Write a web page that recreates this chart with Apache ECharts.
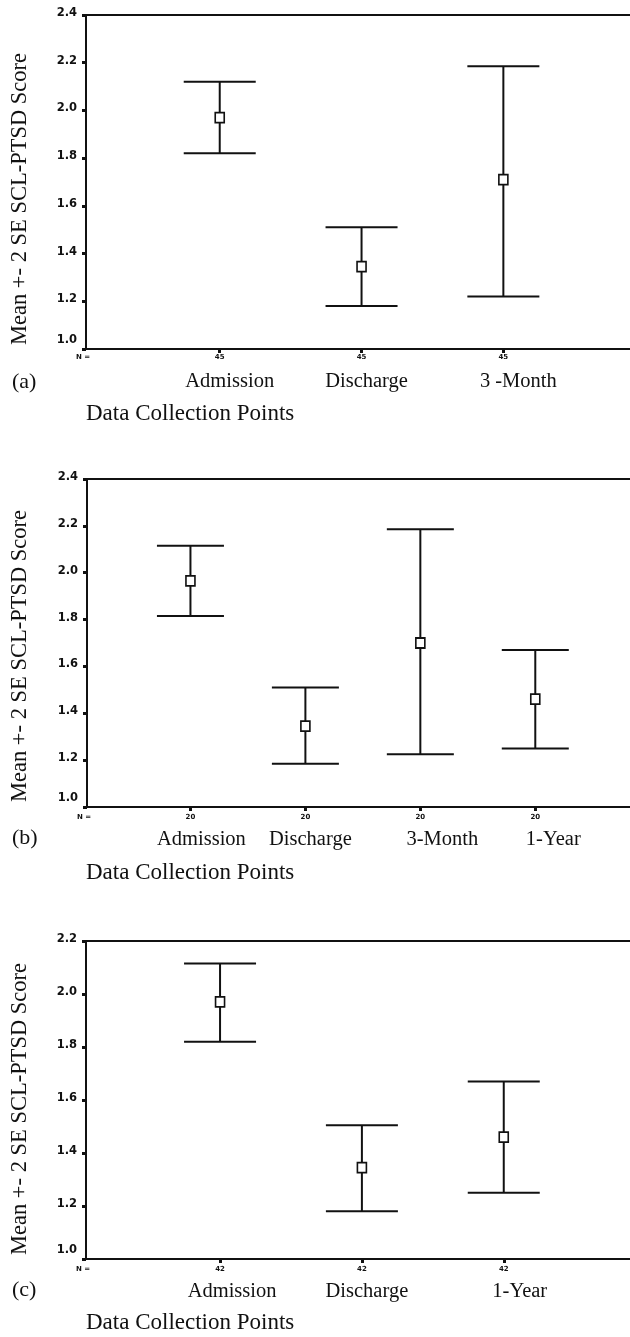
<!DOCTYPE html>
<html><head><meta charset="utf-8">
<script src="https://cdn.jsdelivr.net/npm/echarts@6/dist/echarts.min.js"></script>
<style>html,body{margin:0;padding:0;background:#fff}#c{width:630px;height:1337px}</style>
</head><body><div id="c"></div>
<script>
// ---------------- data ----------------
const catsA = ['Admission', 'Discharge', '3 -Month'];
const nA = ['45', '45', '45'];
const lowA = [1.82, 1.18, 1.22];
const meanA = [1.97, 1.345, 1.71];
const highA = [2.12, 1.51, 2.185];
const yTicksA = [1.0, 1.2, 1.4, 1.6, 1.8, 2.0, 2.2, 2.4];

const catsB = ['Admission', 'Discharge', '3-Month', '1-Year'];
const nB = ['20', '20', '20', '20'];
const lowB = [1.815, 1.185, 1.225, 1.25];
const meanB = [1.965, 1.345, 1.70, 1.46];
const highB = [2.115, 1.51, 2.185, 1.67];
const yTicksB = [1.0, 1.2, 1.4, 1.6, 1.8, 2.0, 2.2, 2.4];

const catsC = ['Admission', 'Discharge', '1-Year'];
const nC = ['42', '42', '42'];
const lowC = [1.82, 1.18, 1.25];
const meanC = [1.97, 1.345, 1.46];
const highC = [2.115, 1.505, 1.67];
const yTicksC = [1.0, 1.2, 1.4, 1.6, 1.8, 2.0, 2.2];

const yTitle = 'Mean +- 2 SE SCL-PTSD Score';
const xTitle = 'Data Collection Points';
const letters = ['(a)', '(b)', '(c)'];

// ---------------- layout (positions / sizes) ----------------
const layout = [
  {left: 86, top: 15, height: 334, xMin: 0.057, xMax: 3.893, nMargin: 5, capHalf: 36, nameShift: [10, 5, 15], titleY: 199, letterY: 382, xTitleY: 414},
  {left: 87, top: 479, height: 328, xMin: 0.1, xMax: 4.824, nMargin: 7, capHalf: 33.5, nameShift: [11, 5, 22, 18], titleY: 656, letterY: 838, xTitleY: 873},
  {left: 86, top: 941, height: 318, xMin: 0.055, xMax: 3.89, nMargin: 7, capHalf: 36, nameShift: [12, 5, 16], titleY: 1109, letterY: 1290, xTitleY: 1323}
];

const panels = [
  {cats: catsA, n: nA, low: lowA, mean: meanA, high: highA, ticks: yTicksA},
  {cats: catsB, n: nB, low: lowB, mean: meanB, high: highB, ticks: yTicksB},
  {cats: catsC, n: nC, low: lowC, mean: meanC, high: highC, ticks: yTicksC}
];

const INK = '#111';
const grid = [], xAxis = [], yAxis = [], series = [], graphic = [];

panels.forEach((p, i) => {
  const L = layout[i];
  const W = 630 - L.left;
  const pos = p.cats.map((_, k) => k + 1);
  grid.push({left: L.left, top: L.top, height: L.height, right: 0});
  const base = xAxis.length;
  // main bottom axis: N labels + ticks
  xAxis.push({
    type: 'value', gridIndex: i, min: L.xMin, max: L.xMax, position: 'bottom',
    axisLine: {show: true, onZero: false, lineStyle: {color: INK, width: 2}},
    axisTick: {show: true, customValues: pos, length: 4, lineStyle: {color: INK, width: 3}},
    splitLine: {show: false},
    axisLabel: {
      customValues: [L.xMin].concat(pos), margin: L.nMargin,
      fontFamily: 'DejaVu Sans', fontWeight: 'bold', fontSize: 7, color: INK,
      formatter: v => v < 0.5 ? '{nn|N =}' : p.n[Math.round(v) - 1],
      rich: {nn: {padding: [0, 6, 0, 0], fontFamily: 'DejaVu Sans', fontWeight: 'bold', fontSize: 7, color: INK}}
    }
  });
  // category names axis
  const k2d = (L.xMax - L.xMin) / W;
  xAxis.push({
    type: 'value', gridIndex: i, min: L.xMin, max: L.xMax, position: 'bottom',
    axisLine: {show: false, onZero: false}, axisTick: {show: false}, splitLine: {show: false},
    axisLabel: {
      customValues: pos.map((x, k) => x + L.nameShift[k] * k2d), margin: 22,
      fontFamily: 'Liberation Serif', fontSize: 20.5, color: INK,
      formatter: v => p.cats[Math.round(v) - 1]
    }
  });
  // top border
  xAxis.push({
    type: 'value', gridIndex: i, min: L.xMin, max: L.xMax, position: 'top',
    axisLine: {show: true, onZero: false, lineStyle: {color: INK, width: 2}},
    axisTick: {show: false}, axisLabel: {show: false}, splitLine: {show: false}
  });
  const yMin = p.ticks[0], yMax = p.ticks[p.ticks.length - 1];
  yAxis.push({
    type: 'value', gridIndex: i, min: yMin, max: yMax, interval: 0.2,
    axisLine: {show: true, onZero: false, lineStyle: {color: INK, width: 2}},
    axisTick: {show: true, length: 4, lineStyle: {color: INK, width: 3}},
    splitLine: {show: false},
    axisLabel: {
      margin: 9, fontFamily: 'DejaVu Sans', fontWeight: 'bold', fontSize: 11.5, color: INK,
      formatter: v => Math.abs(v - yMin) < 1e-6 ? '{lo|' + v.toFixed(1) + '}' : '{hi|' + v.toFixed(1) + '}',
      rich: {
        lo: {padding: [0, 0, 18, 0], fontFamily: 'DejaVu Sans', fontWeight: 'bold', fontSize: 11.5, color: INK},
        hi: {padding: [0, 0, 4, 0], fontFamily: 'DejaVu Sans', fontWeight: 'bold', fontSize: 11.5, color: INK}
      }
    }
  });
  const cap = L.capHalf;
  series.push({
    type: 'custom', xAxisIndex: base, yAxisIndex: i, z: 2, silent: true,
    data: pos.map((x, k) => [x, p.low[k], p.high[k]]),
    encode: {x: 0, y: [1, 2]},
    renderItem: (params, api) => {
      const x = api.value(0);
      const a = api.coord([x, api.value(2)]);
      const b = api.coord([x, api.value(1)]);
      const st = {stroke: INK, lineWidth: 2};
      return {type: 'group', children: [
        {type: 'line', shape: {x1: a[0], y1: a[1], x2: b[0], y2: b[1]}, style: st},
        {type: 'line', shape: {x1: a[0] - cap, y1: a[1], x2: a[0] + cap, y2: a[1]}, style: st},
        {type: 'line', shape: {x1: b[0] - cap, y1: b[1], x2: b[0] + cap, y2: b[1]}, style: st}
      ]};
    }
  });
  series.push({
    type: 'scatter', xAxisIndex: base, yAxisIndex: i, z: 3, silent: true,
    data: pos.map((x, k) => [x, p.mean[k]]),
    symbol: 'rect', symbolSize: [9, 10],
    itemStyle: {color: '#fff', borderColor: INK, borderWidth: 1.7, opacity: 1}
  });
  graphic.push({type: 'text', x: 20, y: L.titleY, rotation: Math.PI / 2,
    style: {text: yTitle, fontFamily: 'Liberation Serif', fontSize: 22.5, fill: INK, align: 'center', verticalAlign: 'middle'}});
  graphic.push({type: 'text', x: 12, y: L.letterY,
    style: {text: letters[i], fontFamily: 'Liberation Serif', fontSize: 22, fill: INK, align: 'left', verticalAlign: 'middle'}});
  graphic.push({type: 'text', x: 86, y: L.xTitleY,
    style: {text: xTitle, fontFamily: 'Liberation Serif', fontSize: 23, fill: INK, align: 'left', verticalAlign: 'middle'}});
});

const chart = echarts.init(document.getElementById('c'), null, {renderer: 'canvas'});
chart.setOption({
  backgroundColor: '#fff', animation: false,
  grid, xAxis, yAxis, series, graphic
});
</script></body></html>
